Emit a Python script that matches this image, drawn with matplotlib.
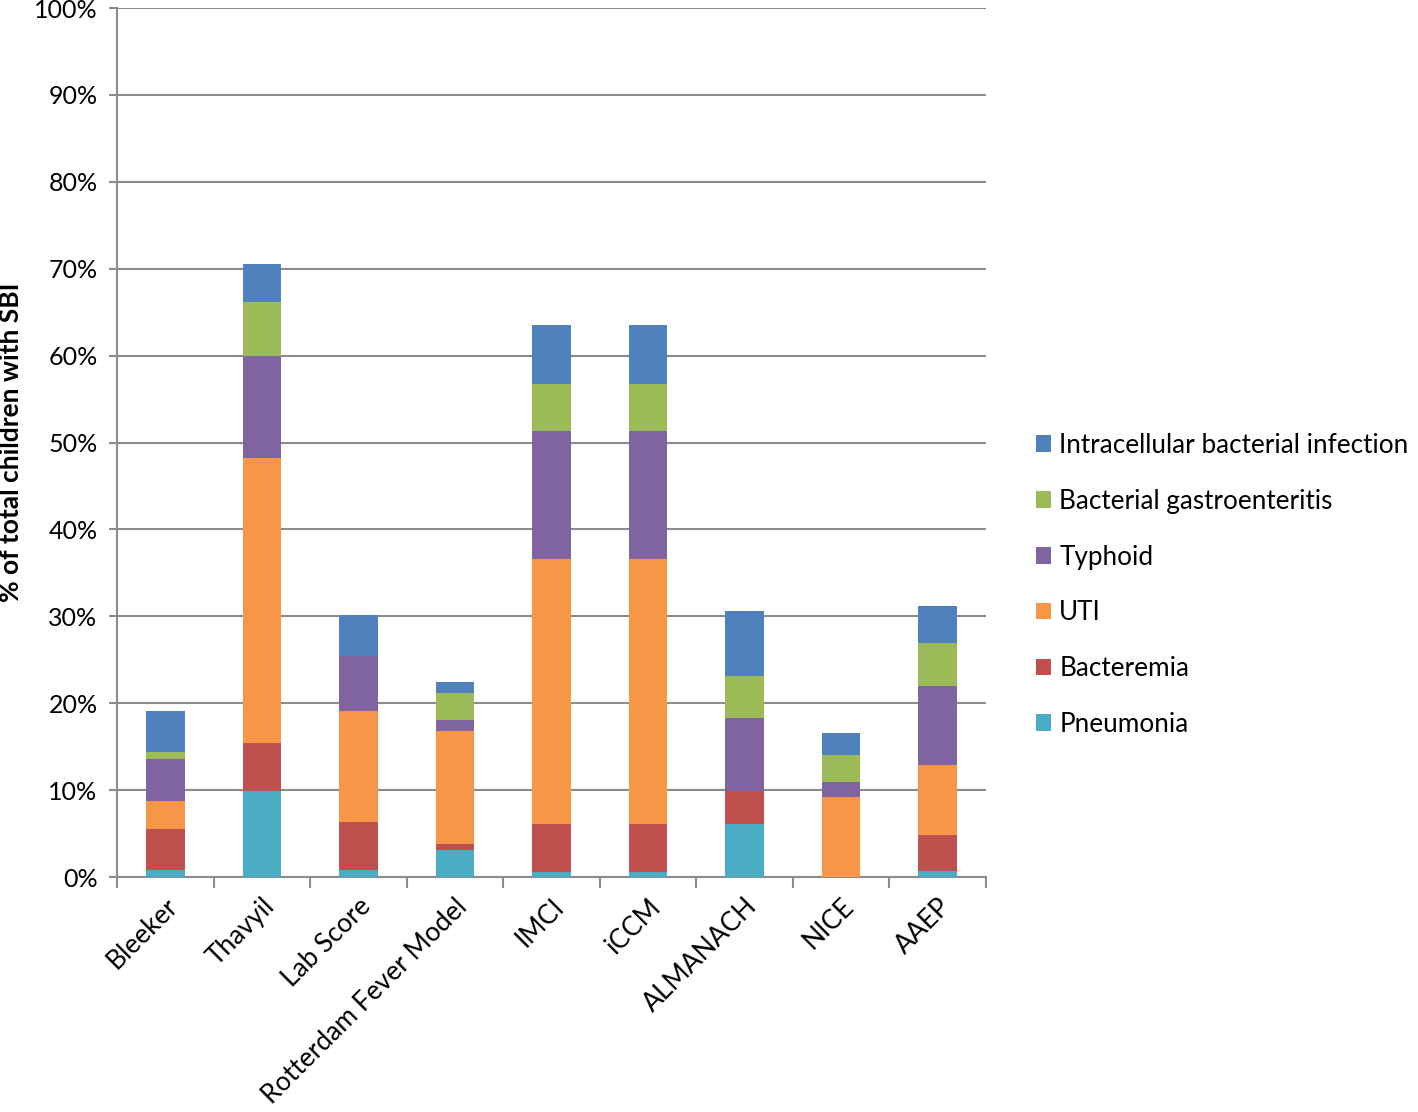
import numpy as np
import matplotlib.pyplot as plt
from matplotlib.ticker import FuncFormatter, FixedLocator

plt.rcParams['font.family'] = ['Lato', 'DejaVu Sans']

# categories (clinical prediction rules)
rules = ['Bleeker', 'Thavyil', 'Lab Score', 'Rotterdam Fever Model', 'IMCI',
         'iCCM', 'ALMANACH', 'NICE', 'AAEP']

# % of total children with SBI, per diagnosis (bottom to top)
pneumonia = [0.8, 9.9, 0.8, 3.1, 0.6, 0.6, 6.1, 0.0, 0.7]
bacteremia = [4.7, 5.5, 5.5, 0.7, 5.5, 5.5, 3.8, 0.0, 4.1]
uti = [3.2, 32.8, 12.8, 13.0, 30.5, 30.5, 0.0, 9.2, 8.1]
typhoid = [4.9, 11.8, 6.3, 1.3, 14.7, 14.7, 8.4, 1.7, 9.1]
gastro = [0.8, 6.2, 0.0, 3.1, 5.4, 5.4, 4.8, 3.1, 4.9]
intracellular = [4.7, 4.3, 4.7, 1.2, 6.8, 6.8, 7.5, 2.6, 4.3]

series = [
    ('Pneumonia', pneumonia, '#4BACC6'),
    ('Bacteremia', bacteremia, '#C0504D'),
    ('UTI', uti, '#F79646'),
    ('Typhoid', typhoid, '#8064A2'),
    ('Bacterial gastroenteritis', gastro, '#9BBB59'),
    ('Intracellular bacterial infection', intracellular, '#4F81BD'),
]

fig = plt.figure(figsize=(14.18, 11.12), dpi=100)
ax = fig.add_axes([0.0825, 0.2113, 0.6128, 0.7815])

x = np.arange(len(rules))
bottom = np.zeros(len(rules))
for name, vals, col in series:
    vals = np.array(vals)
    ax.bar(x, vals, 0.4, bottom=bottom, color=col, label=name, zorder=3)
    bottom += vals

ax.set_xlim(-0.5, len(rules) - 0.5)
ax.set_ylim(0, 100)
ax.yaxis.set_major_locator(FixedLocator(np.arange(0, 101, 10)))
ax.yaxis.set_major_formatter(FuncFormatter(lambda v, p: f'{v:.0f}%'))
ax.grid(axis='y', color='#8c8c8c', linewidth=1.5, zorder=0)

ax.set_xticks(x)
ax.set_xticklabels(rules, rotation=45, ha='right', rotation_mode='anchor',
                   fontsize=19)
ax.tick_params(axis='x', length=0, pad=12)
ax.set_xticks(np.arange(-0.5, len(rules)), minor=True)
ax.tick_params(axis='x', which='minor', length=8, width=1.5, color='#8c8c8c')
ax.tick_params(axis='y', labelsize=18, length=6, width=1.5, color='#8c8c8c', pad=8)

for s in ['top', 'right']:
    ax.spines[s].set_visible(False)
for s in ['left', 'bottom']:
    ax.spines[s].set_color('#8c8c8c')
    ax.spines[s].set_linewidth(1.5)

ax.set_ylabel('% of total children with SBI', fontsize=19, fontweight='bold',
              labelpad=8)

handles, labels = ax.get_legend_handles_labels()
fig.legend(handles[::-1], labels[::-1], loc='center left',
           bbox_to_anchor=(0.723, 0.474), frameon=False, fontsize=18.8,
           handlelength=0.6, handleheight=0.6, handletextpad=0.3,
           labelspacing=1.18, borderaxespad=0)

fig.savefig('out.png', dpi=100)
